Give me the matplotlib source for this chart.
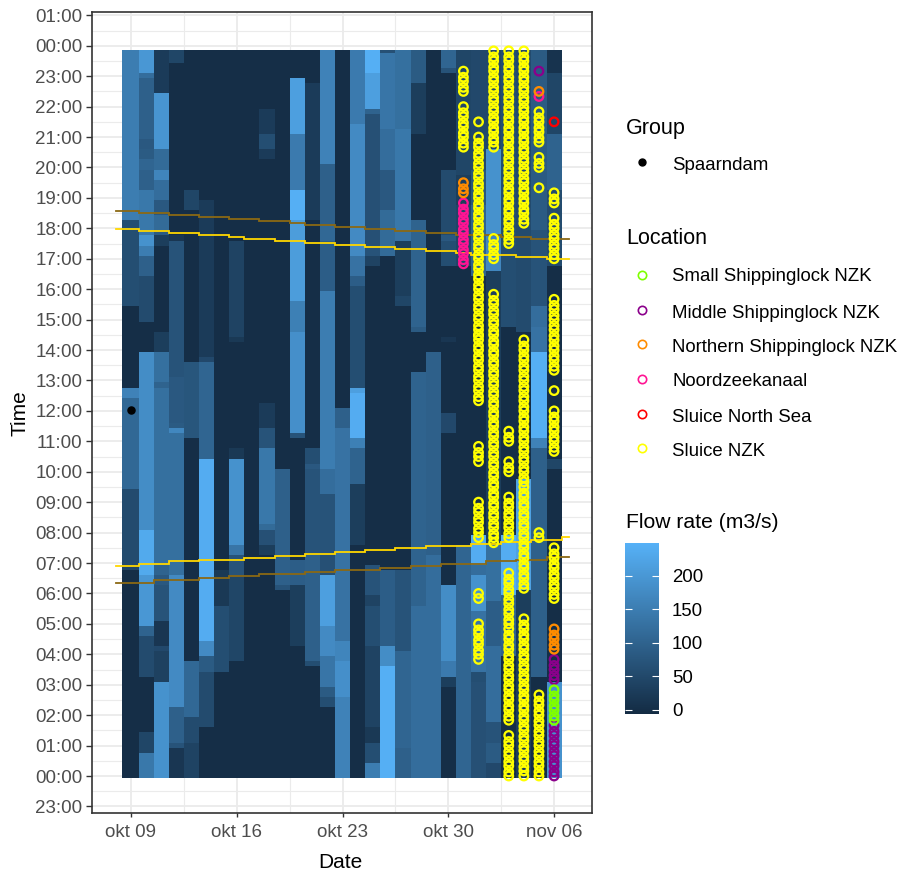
import numpy as np
import matplotlib
matplotlib.use("Agg")
import matplotlib.pyplot as plt
from matplotlib.colors import LinearSegmentedColormap, Normalize
from matplotlib.lines import Line2D

plt.rcParams['font.family'] = ['Liberation Sans', 'DejaVu Sans']

# ---- flow rate per day: hours where the value changes (top-down) and the flow between them
day_00_b = [18.3,18.2,15.4,12.7,12.4,9.4,6.9,6.7]
day_00_v = [150,35,60,0,160,110,55,45,0]
day_01_b = [23.15,23.0,20.85,20.63,20.2,19.97,19.2,17.73,17.35,17.02,16.36,14.88,14.0,8.03,6.66,4.85,4.52,3.21,1.35,0.69]
day_01_v = [200,120,95,80,85,105,95,140,190,150,95,55,0,180,235,200,100,55,0,45,140]
day_02_b = [22.35,20.63,20.52,19.84,19.65,18.99,18.44,18.0,17.67,17.45,14.66,14.0,12.85,12.69,7.0,6.55,6.22,5.02,4.2,4.03,3.05]
day_02_v = [25,195,130,115,165,120,80,115,85,30,0,30,125,100,125,100,80,70,15,50,35,190]
day_03_b = [23.34,17.67,17.51,13.02,11.65,11.48,11.35,11.18,6.66,2.33,1.02,0.9]
day_03_v = [45,0,15,70,80,85,30,170,125,175,95,70,15]
day_04_b = [19.32,18.55,13.51,11.15,11.05,3.7,2.0,1.84,1.07]
day_04_v = [0,45,0,75,20,0,110,80,55,40]
day_05_b = [18.99,13.67,13.51,10.5,10.39,4.36,3.87,3.43,1.57]
day_05_v = [0,25,50,105,120,240,175,85,55,0]
day_06_b = [6.72,5.51,3.43]
day_06_v = [0,20,60,0]
day_07_b = [17.51,14.5,14.33,10.72,10.39,7.65,7.21,6.66,3.76]
day_07_v = [0,40,20,0,20,190,135,70,45,0]
day_08_b = []
day_08_v = [0]
day_09_b = [21.84,21.02,20.63,20.3,12.2,11.37,10.72,8.2,8.03,7.54,7.21]
day_09_v = [0,25,60,25,0,25,70,140,115,65,30,0]
day_10_b = [10.06,6.22,6.06]
day_10_v = [0,95,70,0]
day_11_b = [22.99,21.02,19.32,18.17,15.54,14.55,11.18,11.05,7.05,6.33,4.2]
day_11_v = [0,215,145,245,210,155,185,70,0,90,30,0]
day_12_b = [22.68,18.33,18.22,10.72,10.17,10.06,7.26,3.7,3.54]
day_12_v = [0,25,35,0,60,80,70,95,60,0]
day_13_b = [20.03,18.06,17.62,15.87,10.06,9.18,7.26,6.55,4.85,3.87,2.88,2.66,2.22]
day_13_v = [160,95,110,90,150,120,70,65,215,175,135,85,60,0]
day_14_b = [12.03,11.37,4.42,3.81,2.66]
day_14_v = [0,95,130,165,185,160]
day_15_b = [21.35,17.13,16.36,16.14,12.69,12.52,11.05,10.72,9.51,7.59]
day_15_v = [145,175,130,90,60,215,240,155,100,30,0]
day_16_b = [23.01,22.0,21.84,21.73,17.45,17.02,16.8,6.99,5.89,5.51,4.2,1.57,1.02,0.36]
day_16_v = [245,215,170,100,65,70,40,0,70,40,60,40,20,60,150]
day_17_b = [23.67,21.18,19.87,18.55,17.02,6.72,4.2,3.54]
day_17_v = [65,135,120,80,115,0,90,180,245]
day_18_b = [21.18,17.84,17.51,15.7,15.48,6.77,4.03,0.91]
day_18_v = [125,140,130,30,45,0,70,105,95]
day_19_b = [22.82,21.07,18.22,14.82,14.66,13.18,5.51]
day_19_v = [85,30,0,100,85,0,100,120]
day_20_b = [13.84,7.21]
day_20_v = [0,95,120]
day_21_b = [23.32,23.15,19.84,17.67,17.51,16.69,14.5,14.33,14.17,14.0,13.89,11.87,11.18,6.22,3.76,3.21,2.88]
day_21_v = [105,70,0,55,80,60,0,15,30,0,20,0,50,0,180,145,30,0]
day_22_b = [19.81,18.71,16.74,7.65]
day_22_v = [45,30,45,0,105]
day_23_b = [19.97,18.71,16.47,7.87,6.99,6.55,5.35,3.37,3.05]
day_23_v = [50,75,100,0,240,120,190,130,60,65]
day_24_b = [20.63,17.73,16.52,7.65,5.73,4.2,1.68,1.02,0.36]
day_24_v = [50,190,170,30,125,90,120,70,85,50]
day_25_b = [14.82,7.87,5.89,3.87]
day_25_v = [60,0,240,100,0]
day_26_b = [14.66,9.8,6.1]
day_26_v = [55,0,220,30]
day_27_b = [18.0,15.37,14.82,13.84,11.05,10.72,3.21]
day_27_v = [85,70,120,130,245,160,95,0]
day_28_b = [23.15,21.02,19.26,16.69,10.5,10.06,3.1]
day_28_v = [10,45,100,55,0,45,0,190]

flow_breaks = [day_00_b,day_01_b,day_02_b,day_03_b,day_04_b,day_05_b,day_06_b,day_07_b,day_08_b,day_09_b,
               day_10_b,day_11_b,day_12_b,day_13_b,day_14_b,day_15_b,day_16_b,day_17_b,day_18_b,day_19_b,
               day_20_b,day_21_b,day_22_b,day_23_b,day_24_b,day_25_b,day_26_b,day_27_b,day_28_b]
flow_values = [day_00_v,day_01_v,day_02_v,day_03_v,day_04_v,day_05_v,day_06_v,day_07_v,day_08_v,day_09_v,
               day_10_v,day_11_v,day_12_v,day_13_v,day_14_v,day_15_v,day_16_v,day_17_v,day_18_v,day_19_v,
               day_20_v,day_21_v,day_22_v,day_23_v,day_24_v,day_25_v,day_26_v,day_27_v,day_28_v]

# ---- events, as a count of ten-minute slots since midnight
sluice_d22 = [139,137,135,132,130,128,126,124]
sluice_d23 = [129,126,124,122,120,118,116,114,112,110,108,106,104,102,100,98,96,94,92,90,88,87,86,84,82,80,78,76,74,
              65,63,62,54,52,50,48,47,36,35,30,28,26,24,23]
sluice_d24 = [143,141,139,137,135,133,131,129,127,125,124,106,104,102,
              95,93,91,89,87,85,83,81,79,77,75,73,71,69,67,65,63,61,59,57,55,53,51,49,47,46]
sluice_d25 = [143,141,139,137,135,133,131,129,127,125,123,121,119,117,115,113,111,109,107,105,
              68,66,62,60,55,53,51,49,47,40,38,36,34,32,30,29,27,25,23,21,19,17,15,13,11,8,6,4,2,0]
sluice_d26 = [143,141,139,137,135,133,131,129,127,125,123,121,119,117,115,113,111,109,
              86,84,82,80,78,76,74,72,70,68,66,64,62,60,58,57,55,53,51,49,47,45,43,41,39,37,
              31,29,27,25,23,21,19,17,15,13,11,9,7,5,3,1,0]
sluice_d27 = [131,129,127,125,122,120,116,48,47,16,14,12,10,8,6,4,2,0]
sluice_d28 = [115,113,110,108,106,104,102,94,92,90,88,86,84,82,80,76,72,70,68,66,64,45,43,41,39,37,35]
noordzee_d22 = [113,111,109,107,105,103,101]
noordzee_d27 = [134]
northern_d22 = [117,115]
northern_d27 = [135]
northern_d28 = [29,27,25]
middle_d27 = [139]
middle_d28 = [23,21,19,10,8,6,4,2,0]
small_d28 = [17,15,13,11]
north_sea_d28 = [129]
spaarndam_day = [0]
spaarndam_hour = [12.03]

# ---- sun lines, one value per day from the day before the first to the day after the last
sun_days = list(range(-1, 30))
sunset_civil = [17.98,17.98,17.92,17.92,17.85,17.85,17.78,17.78,17.72,17.65,17.65,17.59,17.59,17.52,17.52,17.46,17.46,
                17.39,17.39,17.33,17.33,17.26,17.26,17.2,17.13,17.13,17.13,17.07,17.07,17.0,17.0]
sunset_naut = [18.57,18.57,18.51,18.51,18.44,18.44,18.38,18.38,18.31,18.31,18.25,18.25,18.18,18.12,18.12,18.05,18.05,
               17.99,17.99,17.92,17.92,17.85,17.85,17.79,17.79,17.79,17.72,17.72,17.66,17.66,17.66]
sunrise_civil = [6.91,6.91,6.98,6.98,7.05,7.05,7.11,7.11,7.11,7.18,7.18,7.24,7.24,7.31,7.31,7.37,7.37,
                 7.44,7.44,7.50,7.50,7.57,7.57,7.57,7.63,7.63,7.70,7.70,7.77,7.77,7.84]
sunrise_naut = [6.33,6.33,6.33,6.44,6.44,6.44,6.52,6.52,6.58,6.58,6.65,6.65,6.65,6.72,6.72,6.78,6.78,6.78,
                6.85,6.85,6.91,6.91,6.98,6.98,6.98,7.05,7.05,7.11,7.11,7.19,7.19]

x_tick_days = [0, 7, 14, 21, 28]
x_tick_labels = ['okt 09', 'okt 16', 'okt 23', 'okt 30', 'nov 06']
y_tick_labels = ['23:00','00:00','01:00','02:00','03:00','04:00','05:00','06:00','07:00','08:00','09:00','10:00',
                 '11:00','12:00','13:00','14:00','15:00','16:00','17:00','18:00','19:00','20:00','21:00','22:00',
                 '23:00','00:00','01:00']
location_names = ['Small Shippinglock NZK','Middle Shippinglock NZK','Northern Shippinglock NZK',
                  'Noordzeekanaal','Sluice North Sea','Sluice NZK']
flow_ticks = [0, 50, 100, 150, 200]

# ---- styles
W, H = 901, 875
C_SMALL, C_MIDDLE, C_NORTH, C_NOORD, C_SEA, C_SLUICE = '#7FFF00', '#8B008B', '#FF8C00', '#FF1493', '#FF0000', '#FFFF00'
location_colors = [C_SMALL, C_MIDDLE, C_NORTH, C_NOORD, C_SEA, C_SLUICE]
TXT = '#000000'
TICK = '#4D4D4D'
GRID = '#EBEBEB'
cmap = LinearSegmentedColormap.from_list('gg', ['#132B43', '#56B1F7'])
norm = Normalize(-6, 249)

fig = plt.figure(figsize=(W/100, H/100), dpi=100)
def rect(l, t, r, b):
    return [l/W, 1-b/H, (r-l)/W, (b-t)/H]
ax = fig.add_axes(rect(92, 12, 592, 813))
ax.set_axisbelow(True)

# grid
ax.set_xticks(x_tick_days)
ax.set_xticklabels(x_tick_labels)
ax.set_xticks([3.5, 10.5, 17.5, 24.5], minor=True)
ax.set_yticks(range(-1, 26))
ax.set_yticklabels(y_tick_labels)
ax.set_yticks([i+0.5 for i in range(-1, 25)], minor=True)
ax.grid(True, which='major', color=GRID, lw=1.3)
ax.grid(True, which='minor', color=GRID, lw=0.8)
ax.tick_params(which='minor', length=0)
ax.tick_params(axis='y', which='major', length=4, width=1.0, color='#333333', labelcolor=TICK, labelsize=13.5, pad=3)
ax.tick_params(axis='x', which='major', length=3.2, width=1.0, color='#333333', labelcolor=TICK, labelsize=13.5, pad=5)
for s in ax.spines.values():
    s.set_color('#333333'); s.set_linewidth(1.2); s.set_zorder(10)

# tiles
slot_hours = np.arange(144)/6
grid = np.zeros((144, 29))
for d, (b, v) in enumerate(zip(flow_breaks, flow_values)):
    for r, t in enumerate(slot_hours):
        grid[r, d] = v[sum(1 for x in b if x > t)]
x_edges = np.arange(30) - 0.5
x_edges[0] = -0.6
y_edges = (np.arange(145) - 0.4)/6
y_edges[-1] = 23.87
mesh = ax.pcolormesh(x_edges, y_edges, grid, cmap=cmap, norm=norm, zorder=2, rasterized=True, linewidth=0)

# sun lines
for vals, c in ((sunset_naut,'#8B6914'),(sunrise_naut,'#8B6914'),(sunset_civil,'#FFD700'),(sunrise_civil,'#FFD700')):
    ax.step(sun_days, vals, where='mid', color=c, lw=1.3, zorder=3, solid_joinstyle='miter')

# events
def rings(day, slots, color):
    s = set(slots)
    ys = [t/6 for t in slots] + [(t+0.8)/6 for t in slots if t+2 in s]
    ax.scatter([day]*len(ys), ys, s=38, facecolors='none', edgecolors=color, linewidths=1.65, zorder=4)
for day, slots, color in ((22, noordzee_d22, C_NOORD), (22, northern_d22, C_NORTH), (22, sluice_d22, C_SLUICE),
                          (23, sluice_d23, C_SLUICE), (24, sluice_d24, C_SLUICE), (25, sluice_d25, C_SLUICE),
                          (26, sluice_d26, C_SLUICE), (27, sluice_d27, C_SLUICE), (27, middle_d27, C_MIDDLE),
                          (27, noordzee_d27, C_NOORD), (27, northern_d27, C_NORTH), (28, sluice_d28, C_SLUICE),
                          (28, middle_d28, C_MIDDLE), (28, northern_d28, C_NORTH), (28, small_d28, C_SMALL),
                          (28, north_sea_d28, C_SEA)):
    rings(day, slots, color)
ax.scatter(spaarndam_day, spaarndam_hour, s=26, color='black', zorder=5)

ax.set_xlim(-2.58, 30.51)
ax.set_ylim(-1.216, 25.11)

fig.text(340/W, 1-862/H, 'Date', fontsize=15, color=TXT, ha='center', va='center')
fig.text(20/W, 1-413/H, 'Time', fontsize=15, color=TXT, ha='center', va='center', rotation=90)

# legends
def ftext(x, y, s, size):
    fig.text(x/W, 1-y/H, s, fontsize=size, color=TXT, va='center', ha='left')
ftext(626, 128, 'Group', 15.5)
ftext(626, 238, 'Location', 15.5)
ftext(626, 523, 'Flow rate (m3/s)', 15.2)
ftext(672, 166, 'Spaarndam', 13.4)
fig.add_artist(Line2D([642/W], [1-162/H], transform=fig.transFigure, marker='o', ms=5, color='black', lw=0))
for name, c, ym, yt in zip(location_names, location_colors, [275,310,344,379,414,448], [277,313,347,381,417,451]):
    ftext(672, yt, name, 13.4)
    fig.add_artist(Line2D([642/W], [1-ym/H], transform=fig.transFigure, marker='o', ms=6, mfc='none',
                          mec=c, mew=1.2, lw=0))

cax = fig.add_axes(rect(625, 543, 659, 714))
cb = fig.colorbar(mesh, cax=cax, ticks=flow_ticks)
cb.outline.set_visible(False)
cax.tick_params(which='both', direction='in', left=True, right=True, length=5, width=0.8, color='white',
                labelsize=13.4, labelcolor=TXT, pad=9.4)
cb.minorticks_off()

fig.savefig('out.png', dpi=100)
